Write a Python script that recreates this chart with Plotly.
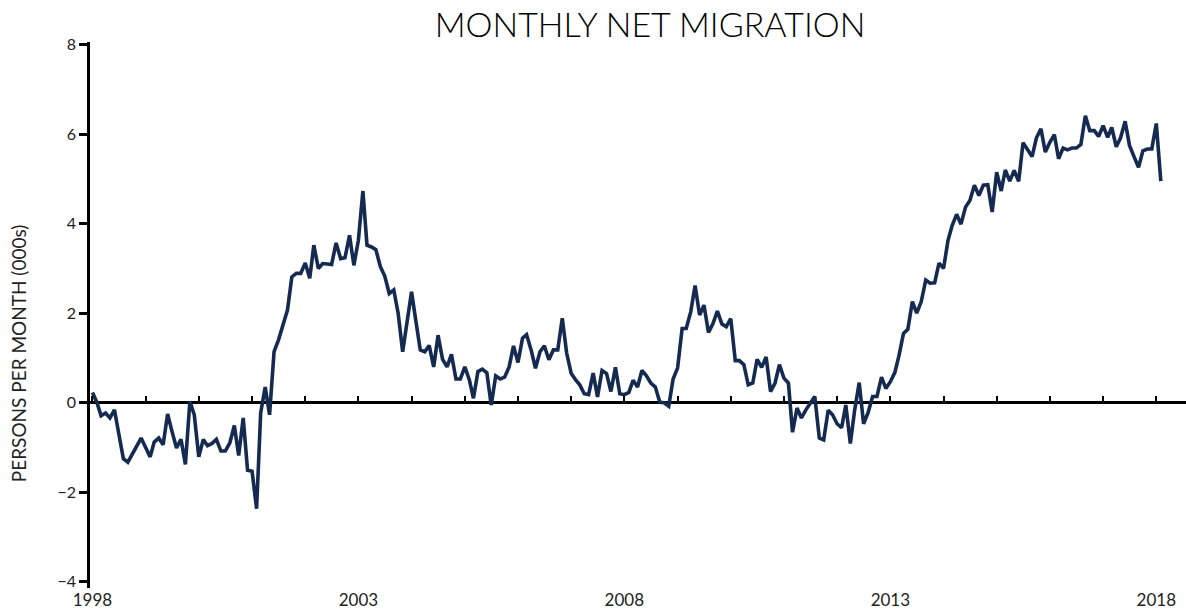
import pandas as pd
import plotly.graph_objects as go

# Monthly net migration, persons per month (000s), Jan 1998 onwards
start_month = "1998-01-01"
net_migration = [
    # 1998
    0.23, 0.00, -0.29, -0.23, -0.34, -0.16, -0.70, -1.25, -1.33, -1.15, -0.98, -0.79,
    # 1999
    -1.00, -1.21, -0.88, -0.79, -0.94, -0.25, -0.64, -1.01, -0.82, -1.38, 0.03, -0.27,
    # 2000
    -1.21, -0.82, -0.96, -0.91, -0.82, -1.08, -1.08, -0.90, -0.51, -1.18, -0.34, -1.51,
    # 2001
    -1.53, -2.37, -0.23, 0.35, -0.27, 1.14, 1.40, 1.77, 2.07, 2.81, 2.89, 2.89,
    # 2002
    3.12, 2.78, 3.52, 3.00, 3.11, 3.10, 3.09, 3.57, 3.22, 3.24, 3.74, 3.07,
    # 2003
    3.63, 4.73, 3.52, 3.48, 3.42, 3.04, 2.83, 2.44, 2.52, 2.00, 1.14, 1.80,
    # 2004
    2.48, 1.80, 1.18, 1.14, 1.28, 0.80, 1.51, 0.97, 0.80, 1.08, 0.53, 0.53,
    # 2005
    0.80, 0.51, 0.10, 0.70, 0.75, 0.67, -0.05, 0.60, 0.53, 0.57, 0.80, 1.27,
    # 2006
    0.90, 1.44, 1.52, 1.18, 0.77, 1.14, 1.27, 0.96, 1.18, 1.18, 1.89, 1.11,
    # 2007
    0.66, 0.51, 0.40, 0.20, 0.18, 0.66, 0.13, 0.72, 0.65, 0.25, 0.79, 0.20,
    # 2008
    0.18, 0.23, 0.50, 0.35, 0.72, 0.60, 0.44, 0.35, 0.01, 0.00, -0.08, 0.53,
    # 2009
    0.78, 1.66, 1.66, 2.03, 2.62, 1.96, 2.18, 1.57, 1.77, 2.05, 1.76, 1.70,
    # 2010
    1.88, 0.94, 0.94, 0.85, 0.40, 0.44, 0.97, 0.79, 1.02, 0.25, 0.44, 0.85,
    # 2011
    0.55, 0.44, -0.66, -0.12, -0.34, -0.16, 0.00, 0.14, -0.79, -0.83, -0.17, -0.27,
    # 2012
    -0.47, -0.56, -0.05, -0.91, -0.16, 0.45, -0.47, -0.22, 0.14, 0.14, 0.57, 0.32,
    # 2013
    0.47, 0.68, 1.05, 1.55, 1.64, 2.26, 2.00, 2.26, 2.74, 2.67, 2.68, 3.12,
    # 2014
    3.00, 3.63, 3.96, 4.21, 3.99, 4.37, 4.52, 4.86, 4.63, 4.86, 4.87, 4.26,
    # 2015
    5.15, 4.73, 5.20, 4.95, 5.19, 4.95, 5.81, 5.66, 5.50, 5.92, 6.12, 5.60,
    # 2016
    5.82, 5.99, 5.45, 5.69, 5.65, 5.69, 5.69, 5.77, 6.41, 6.08, 6.08, 5.95,
    # 2017
    6.19, 5.93, 6.15, 5.72, 5.92, 6.29, 5.75, 5.50, 5.26, 5.63, 5.67, 5.67,
    # 2018
    6.24, 4.95,
]

x_tick_vals = ["1998-01-01", "2003-01-01", "2008-01-01", "2013-01-01", "2018-01-01"]
x_tick_text = ["1998", "2003", "2008", "2013", "2018"]
y_tick_vals = [-4, -2, 0, 2, 4, 6, 8]

months = pd.date_range(start_month, periods=len(net_migration), freq="MS")

FONT = "Lato, 'Noto Sans', sans-serif"
x_range = ["1997-12-15", "2018-07-24"]
y_range = [-4.14, 8.06]
zero_pos = (0 - y_range[0]) / (y_range[1] - y_range[0])

fig = go.Figure()
fig.add_trace(go.Scatter(
    x=months, y=net_migration, mode="lines",
    line=dict(color="#142a50", width=3.6),
    hoverinfo="x+y", showlegend=False,
))

fig.update_layout(
    width=1186, height=613,
    margin=dict(l=90, r=0, t=42, b=25, autoexpand=False),
    paper_bgcolor="white", plot_bgcolor="white",
    title=dict(text="MONTHLY NET MIGRATION", x=0.511, xref="paper", xanchor="center",
               y=1 - 25 / 613, yref="container", yanchor="middle",
               font=dict(family=FONT, size=34, color="#000000", weight=300)),
    font=dict(family=FONT, color="#222222"),
    xaxis=dict(
        type="date", range=x_range, showline=False, showgrid=False, zeroline=False,
        tickmode="array", tickvals=x_tick_vals, ticktext=x_tick_text,
        ticks="", tickfont=dict(size=17, color="#222222"), automargin=False,
    ),
    xaxis2=dict(
        type="date", range=x_range, overlaying="x", anchor="free", position=zero_pos,
        side="top", showline=False, showgrid=False, zeroline=False,
        tick0="1998-01-01", dtick="M12", ticks="outside", ticklen=7, tickwidth=2,
        tickcolor="black", showticklabels=False, automargin=False,
    ),
    yaxis=dict(
        range=y_range, showgrid=False, showline=True, linecolor="black", linewidth=2.5,
        zeroline=True, zerolinecolor="black", zerolinewidth=2.5,
        tickmode="array", tickvals=y_tick_vals, ticks="outside", ticklen=8, tickwidth=2.5,
        tickcolor="black", tickfont=dict(size=16, color="#222222"), automargin=False,
    ),
    annotations=[dict(
        text="PERSONS PER MONTH (000s)", textangle=-90, showarrow=False,
        xref="paper", yref="paper", x=-0.0657, y=0.43, xanchor="center", yanchor="middle",
        font=dict(family=FONT, size=19, color="#222222"),
    )],
)
# dummy invisible trace to activate the overlaid tick axis
fig.add_trace(go.Scatter(x=[months[0]], y=[0], xaxis="x2", mode="markers",
                         marker=dict(opacity=0), hoverinfo="skip", showlegend=False))

fig.write_html("out.html", config={"displayModeBar": False},
               post_script="document.body.style.margin='0';document.body.style.padding='0';")
